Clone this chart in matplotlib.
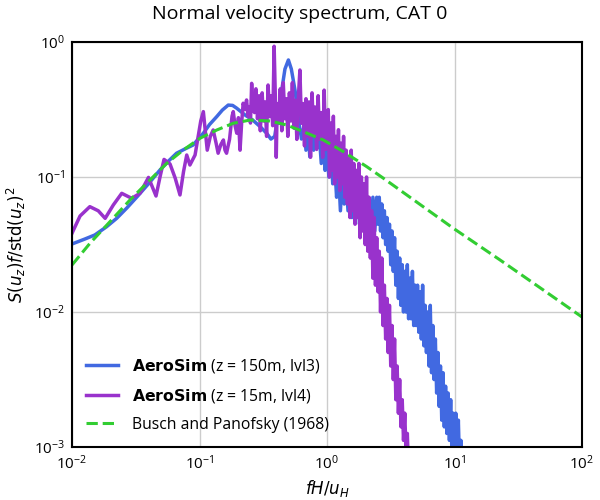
import matplotlib
matplotlib.use("Agg")
import matplotlib.pyplot as plt
from matplotlib.ticker import NullLocator

plt.rcParams['font.family'] = ['Open Sans', 'DejaVu Sans']
plt.rcParams['mathtext.fontset'] = 'dejavusans'

# AeroSim, z = 150m, lvl3
fH_lvl3 = [0.01, 0.0126, 0.0151, 0.0186, 0.0224, 0.0269, 0.0324, 0.0398, 0.049, 0.0575,
           0.0661, 0.0776, 0.0891, 0.1072, 0.120, 0.1365, 0.151, 0.168, 0.182, 0.196,
           0.2275, 0.263, 0.302, 0.339, 0.363, 0.389, 0.427, 0.468, 0.498, 0.525,
           0.562, 0.603, 0.631,
           0.661, 0.684, 0.708, 0.733, 0.759, 0.785, 0.813, 0.841, 0.871, 0.902,
           0.933, 0.966, 1.0, 1.035, 1.072, 1.109, 1.148, 1.189, 1.230, 1.274,
           1.318, 1.365, 1.413, 1.462, 1.514, 1.567, 1.622, 1.679, 1.738, 1.799,
           1.862, 1.928, 1.995, 2.065, 2.138, 2.213, 2.291, 2.371, 2.455,
           2.512, 2.570, 2.630, 2.692, 2.754, 2.818, 2.884, 2.951, 3.020, 3.090,
           3.162, 3.236, 3.311, 3.388, 3.467, 3.548, 3.631, 3.715, 3.802, 3.890,
           3.981, 4.074, 4.169, 4.266, 4.365, 4.467, 4.571, 4.677, 4.786, 4.898,
           5.012, 5.129, 5.248, 5.370, 5.495, 5.623, 5.754, 5.888, 6.026, 6.166,
           6.310, 6.457, 6.607, 6.761, 6.918, 7.079, 7.244, 7.413, 7.586, 7.762,
           7.943, 8.128, 8.318, 8.511, 8.710, 8.913, 9.120, 9.333, 9.550, 9.772,
           10.0, 10.23, 10.47, 10.72, 10.96, 11.22, 11.48, 11.75]
S_lvl3 = [0.0319, 0.0347, 0.0372, 0.0427, 0.0494, 0.0589, 0.0714, 0.0891, 0.1127, 0.132,
          0.150, 0.162, 0.1726, 0.211, 0.245, 0.280, 0.313, 0.341, 0.339, 0.323,
          0.288, 0.263, 0.234, 0.209, 0.191, 0.20, 0.355, 0.631, 0.736, 0.631,
          0.436, 0.251, 0.191,
          0.240, 0.158, 0.251, 0.141, 0.224, 0.158, 0.240, 0.166, 0.200, 0.126,
          0.191, 0.112, 0.158, 0.100, 0.166, 0.0891, 0.126, 0.0708, 0.112, 0.0562,
          0.100, 0.0631, 0.0891, 0.0562, 0.0891, 0.0501, 0.0794, 0.0501, 0.0794, 0.0447,
          0.0708, 0.0447, 0.0708, 0.0398, 0.0661, 0.0417, 0.0708, 0.0398, 0.0708,
          0.0447, 0.0708, 0.0398, 0.0631, 0.0355, 0.0562, 0.0316, 0.0501, 0.0282, 0.0447,
          0.0224, 0.0398, 0.0200, 0.0355, 0.0158, 0.0282, 0.0126, 0.0251, 0.0112, 0.0224,
          0.0100, 0.0200, 0.0100, 0.0224, 0.00891, 0.0178, 0.00891, 0.0200, 0.00794, 0.0158,
          0.00794, 0.0158, 0.00708, 0.0141, 0.00631, 0.0158, 0.00562, 0.0112, 0.00501, 0.0100,
          0.00398, 0.0112, 0.00355, 0.00794, 0.00316, 0.00631, 0.00251, 0.00501, 0.00200, 0.00398,
          0.00158, 0.00355, 0.00141, 0.00282, 0.00126, 0.00251, 0.00112, 0.00224, 0.00089, 0.00178,
          0.00089, 0.00178, 0.00079, 0.00158, 0.00071, 0.00112, 0.00056, 0.0005]

# AeroSim, z = 15m, lvl4
fH_lvl4 = [0.0100, 0.01156, 0.0138, 0.01607, 0.0182, 0.0211, 0.02455, 0.0294, 0.0341, 0.0372,
           0.0398, 0.0425, 0.0456, 0.049, 0.0527, 0.0587, 0.0645, 0.0703, 0.075, 0.0794,
           0.0841, 0.0923, 0.098, 0.1023, 0.1072, 0.111, 0.115, 0.1216, 0.128, 0.135,
           0.140, 0.147, 0.154, 0.1585, 0.163, 0.172, 0.18, 0.184, 0.19, 0.196,
           0.202, 0.208, 0.214, 0.220, 0.2265, 0.234, 0.24, 0.245, 0.251, 0.2565, 0.263,
           0.27, 0.277, 0.285, 0.293, 0.30, 0.31, 0.318, 0.327, 0.336, 0.345,
           0.355, 0.365, 0.375, 0.385, 0.396, 0.40, 0.407, 0.418, 0.43, 0.442,
           0.454, 0.467, 0.48, 0.493, 0.507, 0.521, 0.535, 0.55, 0.565, 0.58,
           0.597, 0.613, 0.63, 0.648, 0.666, 0.684, 0.703, 0.723, 0.743, 0.763,
           0.785, 0.806, 0.829, 0.852, 0.875, 0.9, 0.925, 0.95, 0.977, 1.0,
           1.023, 1.047, 1.072, 1.096, 1.122, 1.148, 1.175, 1.202, 1.230, 1.259,
           1.288, 1.318, 1.349, 1.380, 1.413, 1.445, 1.479, 1.514, 1.549, 1.585,
           1.622, 1.660, 1.698, 1.738, 1.778, 1.820, 1.862, 1.905, 1.950, 1.995,
           2.042, 2.089, 2.138, 2.188, 2.239, 2.291, 2.344, 2.399, 2.455, 2.512,
           2.570, 2.630, 2.692, 2.754, 2.818, 2.884, 2.951, 3.020, 3.090, 3.162,
           3.236, 3.311, 3.388, 3.467, 3.548, 3.631, 3.715, 3.802, 3.890, 3.981,
           4.074, 4.169, 4.266, 4.365]
S_lvl4 = [0.0383, 0.0514, 0.0603, 0.0562, 0.0494, 0.0621, 0.0757, 0.0695, 0.0757, 0.088,
          0.0993, 0.085, 0.0723, 0.100, 0.135, 0.125, 0.098, 0.0736, 0.110, 0.1455,
          0.1227, 0.1455, 0.2046, 0.26, 0.305, 0.22, 0.158, 0.20, 0.223, 0.178,
          0.150, 0.174, 0.188, 0.158, 0.150, 0.19, 0.282, 0.305, 0.24, 0.211,
          0.275, 0.158, 0.251, 0.352, 0.316, 0.372, 0.282, 0.331, 0.251, 0.494, 0.316,
          0.30, 0.45, 0.27, 0.40, 0.22, 0.42, 0.26, 0.36, 0.20, 0.48,
          0.28, 0.40, 0.24, 0.93, 0.30, 0.14, 0.35, 0.25, 0.45, 0.22,
          0.50, 0.27, 0.38, 0.20, 0.42, 0.26, 0.50, 0.23, 0.37, 0.19,
          0.40, 0.62, 0.25, 0.35, 0.17, 0.38, 0.20, 0.36, 0.14, 0.42,
          0.21, 0.33, 0.16, 0.40, 0.19, 0.30, 0.14, 0.44, 0.16, 0.30,
          0.316, 0.100, 0.251, 0.112, 0.282, 0.089, 0.200, 0.100, 0.224, 0.0794,
          0.178, 0.089, 0.200, 0.0708, 0.158, 0.0631, 0.141, 0.0501, 0.158, 0.0562,
          0.126, 0.0447, 0.112, 0.0501, 0.126, 0.0355, 0.100, 0.0398, 0.089, 0.0316,
          0.100, 0.0282, 0.0708, 0.0251, 0.0562, 0.0178, 0.0501, 0.0158, 0.0355, 0.0141,
          0.0282, 0.0100, 0.0251, 0.00794, 0.0158, 0.00631, 0.0126, 0.00501, 0.0112, 0.00398,
          0.00794, 0.00316, 0.00631, 0.00224, 0.00398, 0.00178, 0.00316, 0.00141, 0.00224, 0.00112,
          0.00178, 0.00089, 0.00126, 0.00063]

# Busch and Panofsky (1968)
fH_bp = [0.01, 0.01384, 0.01986, 0.0285, 0.0409, 0.0553, 0.0746, 0.1009, 0.1365, 0.184,
         0.249, 0.357, 0.483, 0.652, 0.935, 1.343, 2.046, 2.748, 9.795, 22.75, 50.0, 100.0]
S_bp = [0.0223, 0.0323, 0.0467, 0.0676, 0.0951, 0.1262, 0.1585, 0.1936, 0.2228, 0.250,
        0.2642, 0.260, 0.2427, 0.2168, 0.188, 0.1542, 0.1194, 0.0984, 0.0417, 0.0243, 0.0145, 0.00918]

fig = plt.figure(figsize=(6, 5), dpi=100)
ax = fig.add_axes([0.12, 0.106, 0.85, 0.81])

ax.plot(fH_lvl3, S_lvl3, color='royalblue', lw=2.5,
        label=r'$\bf{AeroSim}$ (z = 150m, lvl3)')
ax.plot(fH_lvl4, S_lvl4, color='darkorchid', lw=2.5,
        label=r'$\bf{AeroSim}$ (z = 15m, lvl4)')
ax.plot(fH_bp, S_bp, color='limegreen', lw=2.2, ls='--',
        label='Busch and Panofsky (1968)')

ax.set_xscale('log')
ax.set_yscale('log')
ax.set_xlim(1e-2, 1e2)
ax.set_ylim(1e-3, 1e0)
ax.xaxis.set_minor_locator(NullLocator())
ax.yaxis.set_minor_locator(NullLocator())
ax.grid(True, color='#cccccc', lw=1)
ax.set_axisbelow(True)
ax.tick_params(length=0, labelsize=11, pad=5)
for s in ax.spines.values():
    s.set_color('black')
    s.set_linewidth(1.5)

ax.set_xlabel(r'$fH/u_H$', fontsize=12)
ax.set_ylabel(r'$S(u_z)f/\mathrm{std}(u_z)^2$', fontsize=12)
fig.suptitle('Normal velocity spectrum, CAT 0', fontsize=14, y=0.99)

ax.legend(loc='lower left', frameon=False, fontsize=11.3,
          labelspacing=0.75, handletextpad=0.9)

fig.savefig('out.png', dpi=100)
